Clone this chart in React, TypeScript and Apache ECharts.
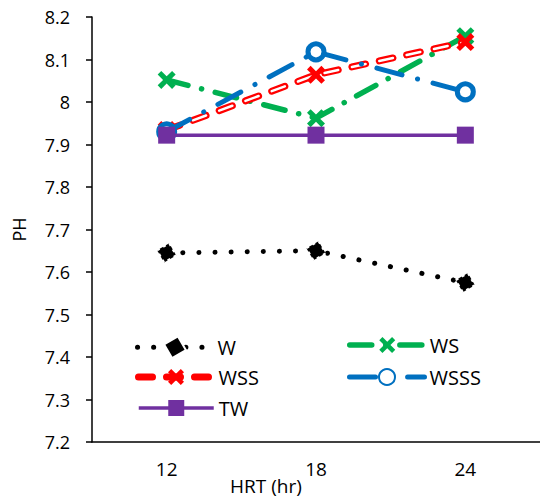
import React, { useEffect, useRef } from "react";
import * as echarts from "echarts";

const categories = ["12", "18", "24"];
const yTicks = [7.2, 7.3, 7.4, 7.5, 7.6, 7.7, 7.8, 7.9, 8, 8.1, 8.2];
const W = [7.645, 7.65, 7.575];
const WS = [8.052, 7.962, 8.155];
const WSS = [7.934, 8.064, 8.141];
const WSSS = [7.93, 8.118, 8.024];
const TW = [7.922, 7.922, 7.922];

const FONT = "Open Sans";
const X_PATH =
  "path://M0,2 L2,0 L5,3 L8,0 L10,2 L7,5 L10,8 L8,10 L5,7 L2,10 L0,8 L3,5 Z";

export default function App() {
  const ref = useRef<HTMLDivElement>(null);
  useEffect(() => {
    if (!ref.current) return;
    const chart = echarts.init(ref.current, null, { renderer: "svg" });
    const legendBase = {
      orient: "horizontal" as const,
      itemWidth: 75,
      itemHeight: 20,
      itemGap: 8,
      padding: 0,
      lineStyle: { width: "inherit" },
      textStyle: { fontFamily: FONT, fontSize: 20, color: "#000" },
      selectedMode: false,
    };
    chart.setOption({
      animation: false,
      grid: { left: 92, top: 17, width: 452, height: 425, containLabel: false },
      xAxis: {
        type: "category",
        data: categories,
        boundaryGap: true,
        axisLine: { show: true, lineStyle: { color: "#000", width: 1.5 } },
        axisTick: { show: false },
        axisLabel: {
          margin: 17,
          fontFamily: FONT,
          fontSize: 19,
          color: "#000",
        },
      },
      yAxis: {
        type: "value",
        min: 7.2,
        max: 8.2,
        interval: 0.1,
        name: "PH",
        nameLocation: "middle",
        nameGap: 64,
        nameRotate: 90,
        nameTextStyle: { fontFamily: FONT, fontSize: 18, color: "#000" },
        splitLine: { show: false },
        axisLine: { show: true, lineStyle: { color: "#000", width: 1.5 } },
        axisTick: { show: true, length: 6, inside: false, lineStyle: { color: "#000", width: 1.5 } },
        axisLabel: {
          margin: 22,
          fontFamily: FONT,
          fontSize: 18,
          color: "#000",
          formatter: (v: number) => {
            const m = yTicks.find((t) => Math.abs(t - v) < 1e-6);
            return String(m !== undefined ? m : +v.toFixed(1));
          },
        },
      },
      legend: [
        { ...legendBase, data: ["W"], left: 135, top: 335 },
        { ...legendBase, data: ["WS"], left: 347, top: 335 },
        { ...legendBase, data: ["WSS"], left: 135, top: 367 },
        { ...legendBase, data: ["WSSS"], left: 347, top: 367 },
        { ...legendBase, data: ["TW"], left: 137, top: 398 },
      ],
      graphic: [
        {
          type: "text",
          left: 230,
          top: 476,
          style: { text: "HRT (hr)", fontFamily: FONT, fontSize: 19, fill: "#000" },
        },
      ],
      series: [
        {
          name: "W",
          type: "line",
          data: W,
          z: 2,
          lineStyle: { color: "#000", width: 5, type: [0.1, 16], cap: "round" },
          symbol: "rect",
          symbolSize: 14,
          symbolRotate: 30,
          itemStyle: { color: "#000", borderColor: "#fff", borderWidth: 2, borderType: [3, 4] },
        },
        {
          name: "WS",
          type: "line",
          data: WS,
          z: 3,
          lineStyle: { color: "#00b050", width: 5.5, type: [22, 14, 0.1, 14], cap: "round" },
          symbol: X_PATH,
          symbolSize: 18,
          itemStyle: { color: "#00b050", borderWidth: 0 },
        },
        {
          name: "WSS",
          type: "line",
          data: WSS,
          z: 4,
          lineStyle: { color: "#ff0000", width: 7, type: [14, 14], cap: "round" },
          symbol: X_PATH,
          symbolSize: 18,
          itemStyle: { color: "#ff0000", borderWidth: 0 },
        },
        {
          name: "WSS-inner",
          type: "line",
          data: WSS,
          z: 4,
          silent: true,
          lineStyle: { color: "#fff", width: 2.5, type: [14, 14], cap: "round" },
          symbol: "none",
        },
        {
          name: "WSSS",
          type: "line",
          data: WSSS,
          z: 5,
          lineStyle: { color: "#0070c0", width: 5, type: [26, 16, 0.1, 16], cap: "round" },
          symbol: "circle",
          symbolSize: 16,
          itemStyle: { color: "#fff", borderColor: "#0070c0", borderWidth: 5 },
        },
        {
          name: "TW",
          type: "line",
          data: TW,
          z: 6,
          lineStyle: { color: "#7030a0", width: 3.5, type: "solid" },
          symbol: "rect",
          symbolSize: 17,
          itemStyle: { color: "#7030a0", borderWidth: 0 },
        },
      ],
    });
    return () => chart.dispose();
  }, []);
  return (
    <div
      ref={ref}
      style={{ position: "absolute", left: 0, top: 0, width: 540, height: 501 }}
    />
  );
}
